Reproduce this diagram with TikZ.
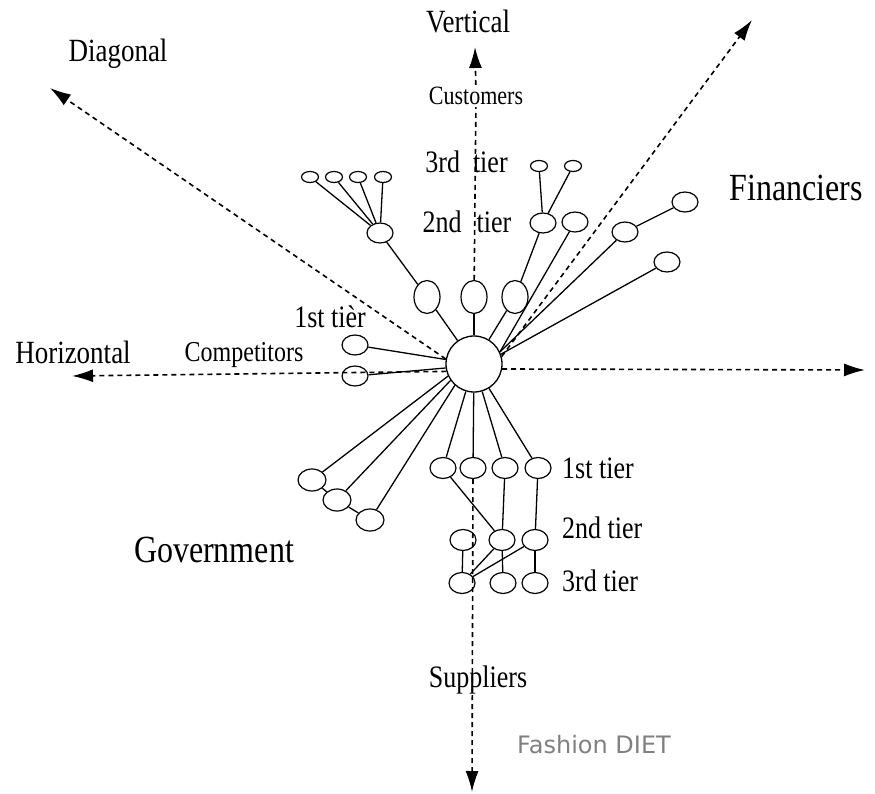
\documentclass[tikz,border=0pt]{standalone}
\usepackage{fontspec}
\setmainfont{Liberation Serif}
\newfontfamily\markfont{DejaVu Sans}
\usetikzlibrary{arrows.meta, shapes.geometric}
\newcommand{\tall}[1]{\scalebox{1}[1.2]{#1}}
\tikzset{
	link/.style={line width=1.3pt},
	axis/.style={line width=1.6pt, dash pattern=on 5pt off 4pt},
	axisarrow/.style={axis, -{Latex[length=21pt, width=13pt]}},
	oval/.style={draw, ellipse, line width=1.2pt, inner sep=0pt},
	ovalS/.style={oval, minimum width=17pt, minimum height=11pt},
	ovalM/.style={oval, minimum width=26pt, minimum height=20pt},
	ovalT/.style={oval, minimum width=26pt, minimum height=33pt},
	ovalG/.style={oval, minimum width=28pt, minimum height=22pt},
	ovalB/.style={oval, minimum width=26pt, minimum height=21pt},
	lbl/.style={inner sep=0pt, font=\fontsize{26pt}{30pt}\selectfont},
	axlbl/.style={lbl, font=\fontsize{27pt}{31pt}\selectfont},
	biglbl/.style={lbl, font=\fontsize{32pt}{36pt}\selectfont},
}
\begin{document}
\begin{tikzpicture}[x=1pt, y=-1pt]
				\useasboundingbox (0, 0) rectangle (875, 794);
				% Hub, axis ends and labels:
				\node[draw, circle, line width=1.3pt, minimum size=56pt, inner sep=0pt](Hub) at (474, 364){};
				\coordinate (DiagL) at (50, 88);
				\coordinate (DiagR) at (752, 20);
				\coordinate (HorL) at (72, 376);
				\coordinate (HorR) at (865, 370);
				\coordinate (VertTip) at (475, 47);
				\coordinate (SupTip) at (472, 792);
				\node[axlbl](VertLbl) at (468, 22){\tall{Vertical}};
				\node[lbl, inner sep=2pt, font=\fontsize{22pt}{26pt}\selectfont](Cust) at (476, 96){\tall{Customers}};
				\node[axlbl](DiagLbl) at (118, 54){\tall{Diagonal}};
				\node[axlbl](HorLbl) at (73, 352){\tall{Horizontal}};
				\node[lbl, font=\fontsize{24pt}{28pt}\selectfont](CompLbl) at (244, 355){\tall{Competitors}};
				\node[lbl](CompTier) at (330, 317){\tall{1st tièr}};
				\node[biglbl](FinLbl) at (796, 188){\tall{Financiers}};
				\node[biglbl](GovLbl) at (214, 550){\tall{Government}};
				\node[lbl](UpTier3) at (466.5, 162){\tall{3rd\hspace{13pt}tier}};
				\node[lbl](UpTier2) at (467, 222){\tall{2nd\hspace{15pt}tier}};
				\node[lbl, anchor=west](DnTier1) at (562, 468){\tall{1st tier}};
				\node[lbl, anchor=west](DnTier2) at (562, 528){\tall{2nd tier}};
				\node[lbl, anchor=west](DnTier3) at (562, 581){\tall{3rd tier}};
				\node[lbl](SupLbl) at (478, 680){\tall{Suppliers}};
				\node[font=\markfont\fontsize{24pt}{28pt}\selectfont, text=gray, inner sep=0pt](Mark) at (594, 745){Fashion DIET};
				% Customers side:
				\node[ovalS](TL1) at (310, 177){};
				\node[ovalS](TL2) at (334, 177){};
				\node[ovalS](TL3) at (358, 177){};
				\node[ovalS](TL4) at (383, 177){};
				\node[ovalM](TL) at (380, 233){};
				\node[ovalT](U1) at (427, 297){};
				\node[ovalT](U2) at (474, 297){};
				\node[ovalT](U3) at (515, 297){};
				\node[ovalM](R2a) at (543, 223){};
				\node[ovalM](R2b) at (575, 222){};
				\node[ovalS](R3a) at (539, 166){};
				\node[ovalS](R3b) at (573, 166){};
				% Financiers, competitors, government:
				\node[ovalM](F1) at (625, 232){};
				\node[ovalM](F2) at (685, 202){};
				\node[ovalM](F3) at (667, 262){};
				\node[ovalM](C1) at (355, 345){};
				\node[ovalM](C2) at (355, 376){};
				\node[ovalG](G1) at (312, 480){};
				\node[ovalG](G2) at (337, 500){};
				\node[ovalG](G3) at (370, 520){};
				% Suppliers side:
				\node[ovalB](B1a) at (443, 468){};
				\node[ovalB](B1b) at (473, 468){};
				\node[ovalB](B1c) at (505, 468){};
				\node[ovalB](B1d) at (538, 468){};
				\node[ovalB](B2a) at (463, 540){};
				\node[ovalB](B2b) at (502, 540){};
				\node[ovalB](B2c) at (535, 540){};
				\node[ovalB](B3a) at (462, 583){};
				\node[ovalB](B3b) at (503, 583){};
				\node[ovalB](B3c) at (535, 583){};
				% Axes:
				\draw[axisarrow] (Hub.170) -- (DiagL);
				\draw[axisarrow] (Hub.15) -- (DiagR);
				\draw[axisarrow] (Hub.195) -- (HorL);
				\draw[axisarrow] (Hub.-10) -- (HorR);
				\draw[axis] (U2) -- (Cust);
				\draw[axisarrow] (Cust) -- (VertTip);
				\draw[axisarrow] (B1b) -- (SupTip);
				% Links:
				\draw[link] (TL1) -- (TL);
				\draw[link] (TL2) -- (TL);
				\draw[link] (TL3) -- (TL);
				\draw[link] (TL4) -- (TL);
				\draw[link] (TL) -- (U1);
				\draw[link] (U1) -- (Hub);
				\draw[link] (U2) -- (Hub);
				\draw[link] (U3) -- (Hub);
				\draw[link] (U3) -- (R2a);
				\draw[link] (R3a) -- (R2a);
				\draw[link] (R3b) -- (R2a);
				\draw[link] (Hub.25) -- (R2b);
				\draw[link] (Hub.25) -- (F1);
				\draw[link] (F1) -- (F2);
				\draw[link] (Hub.20) -- (F3);
				\draw[link] (C1) -- (Hub);
				\draw[link] (C2) -- (Hub.188);
				\draw[link] (G1) -- (Hub.205);
				\draw[link] (G1) -- (G2);
				\draw[link] (G2) -- (Hub.215);
				\draw[link] (G2) -- (G3);
				\draw[link] (G3) -- (Hub.228);
				\draw[link] (B1a) -- (Hub);
				\draw[link] (B1b) -- (Hub);
				\draw[link] (B1c) -- (Hub);
				\draw[link] (B1d) -- (Hub);
				\draw[link] (B1a) -- (B2b);
				\draw[link] (B1c) -- (B2b);
				\draw[link] (B1d) -- (B2c);
				\draw[link] (B2a) -- (B3a);
				\draw[link] (B2b) -- (B3a);
				\draw[link] (B2c) -- (B3a);
				\draw[link] (B2b) -- (B3b);
				\draw[link] (B2c) -- (B3c);
			\end{tikzpicture}
\end{document}
